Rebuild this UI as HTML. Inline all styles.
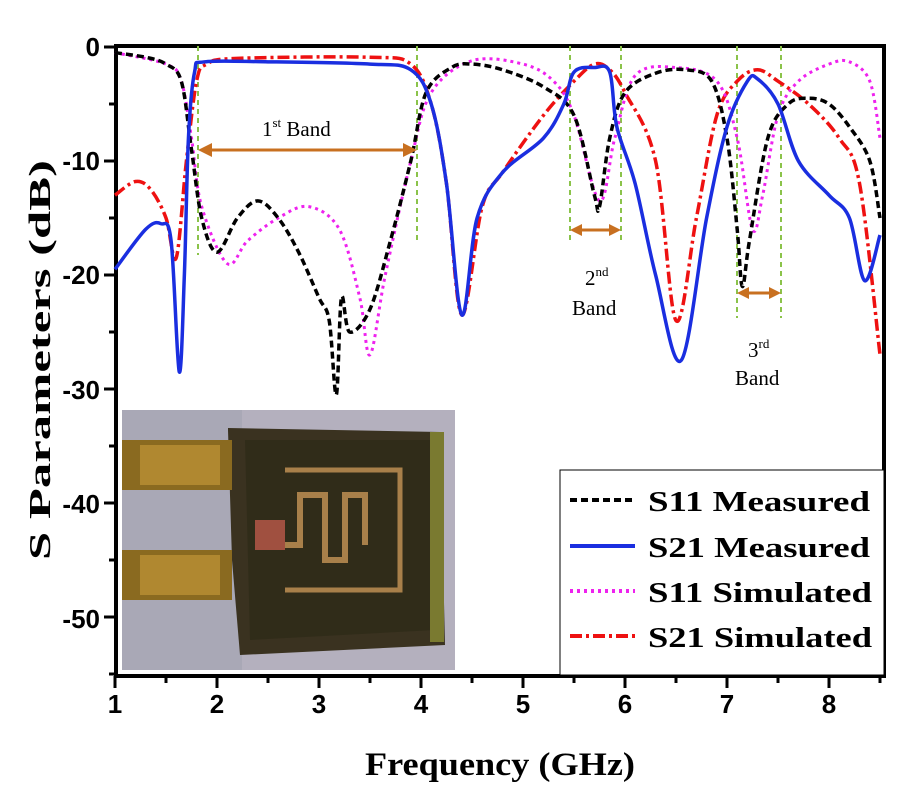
<!DOCTYPE html>
<html><head><meta charset="utf-8"><style>
html,body{margin:0;padding:0;background:#fff;}
svg{display:block;}
.t{font-family:"Liberation Sans",Arial,sans-serif;font-weight:bold;font-size:26px;fill:#000;}
.lg{font-family:"Liberation Serif",serif;font-weight:bold;font-size:29px;fill:#000;}
.bl{font-family:"Liberation Serif",serif;font-size:21px;fill:#000;}
</style></head><body>
<svg id="s" width="900" height="800" viewBox="0 0 900 800" xmlns="http://www.w3.org/2000/svg">
<rect width="900" height="800" fill="#fff"/>
<g>
<rect x="122" y="410" width="333" height="260" fill="#b4b0be"/>
<rect x="122" y="410" width="120" height="260" fill="#a9a8b6"/>
<path d="M228 428 L440 432 L445 645 L240 655 L232 560 L228 430 Z" fill="#3a3220"/>
<path d="M245 440 L430 440 L435 630 L250 640 Z" fill="#2e2a18" opacity="0.8"/>
<rect x="430" y="432" width="14" height="210" fill="#7a7a30"/>
<rect x="122" y="440" width="110" height="50" fill="#8a6a20"/>
<rect x="122" y="550" width="110" height="50" fill="#8a6a20"/>
<rect x="140" y="445" width="80" height="40" fill="#b08830"/>
<rect x="140" y="555" width="80" height="40" fill="#b08830"/>
<path d="M285 470 H400 V590 H285" fill="none" stroke="#a8804a" stroke-width="5"/>
<path d="M285 545 H300 V495 H325 V560 H345 V495 H365 V545" fill="none" stroke="#a8804a" stroke-width="6"/>
<rect x="255" y="520" width="30" height="30" fill="#a05040"/>
</g>
<rect x="116" y="46" width="768" height="630" fill="none" stroke="#000" stroke-width="4"/>
<g id="ticks" stroke="#000" stroke-width="3"></g>
<g class="t" text-anchor="end">
<text x="100" y="56">0</text><text x="100" y="170">-10</text><text x="100" y="284">-20</text>
<text x="100" y="399">-30</text><text x="100" y="513">-40</text><text x="100" y="628">-50</text>
</g>
<g class="t" text-anchor="middle">
<text x="115" y="713">1</text><text x="217" y="713">2</text><text x="319" y="713">3</text><text x="421" y="713">4</text>
<text x="523" y="713">5</text><text x="625" y="713">6</text><text x="727" y="713">7</text><text x="829" y="713">8</text>
</g>
<text class="lg" x="365" y="775" textLength="270" lengthAdjust="spacingAndGlyphs" style="font-size:33px">Frequency (GHz)</text>
<text class="lg" transform="translate(50 560) rotate(-90)" textLength="400" lengthAdjust="spacingAndGlyphs" style="font-size:31px">S Parameters (dB)</text>
<g stroke="#8bc34a" stroke-width="2" stroke-dasharray="5,4">
<line x1="198" y1="46" x2="198" y2="255"/><line x1="417" y1="46" x2="417" y2="240"/>
<line x1="570" y1="46" x2="570" y2="240"/><line x1="621" y1="46" x2="621" y2="240"/>
<line x1="737" y1="46" x2="737" y2="318"/><line x1="781" y1="46" x2="781" y2="318"/>
</g>
<g id="curves" fill="none"></g>
<g stroke="#c87020" stroke-width="3" fill="#c87020">
<line x1="208" y1="150" x2="407" y2="150"/><path d="M198 150 l14 -7 v14z M417 150 l-14 -7 v14z" stroke="none"/>
<line x1="578" y1="230" x2="613" y2="230"/><path d="M570 230 l12 -6 v12z M621 230 l-12 -6 v12z" stroke="none"/>
<line x1="745" y1="293" x2="773" y2="293"/><path d="M737 293 l12 -6 v12z M781 293 l-12 -6 v12z" stroke="none"/>
</g>
<text class="bl" x="262" y="136">1<tspan dy="-9" font-size="13">st</tspan><tspan dy="9"> Band</tspan></text>
<text class="bl" x="585" y="285">2<tspan dy="-9" font-size="13">nd</tspan></text>
<text class="bl" x="572" y="315">Band</text>
<text class="bl" x="748" y="357">3<tspan dy="-9" font-size="13">rd</tspan></text>
<text class="bl" x="735" y="385">Band</text>
<rect x="560" y="470" width="324" height="205" fill="#fff" stroke="#000" stroke-width="1"/>
<line x1="570" y1="500" x2="635" y2="500" stroke="#000" stroke-width="4" stroke-dasharray="7,4"/>
<line x1="570" y1="546" x2="635" y2="546" stroke="#1a2ee0" stroke-width="4"/>
<line x1="570" y1="591" x2="635" y2="591" stroke="#ee22ee" stroke-width="4" stroke-dasharray="3,4"/>
<line x1="570" y1="636" x2="635" y2="636" stroke="#ee1111" stroke-width="4" stroke-dasharray="12,4,3,4"/>
<text class="lg" x="648" y="511" textLength="222" lengthAdjust="spacingAndGlyphs">S11 Measured</text>
<text class="lg" x="648" y="557" textLength="222" lengthAdjust="spacingAndGlyphs">S21 Measured</text>
<text class="lg" x="648" y="602" textLength="224" lengthAdjust="spacingAndGlyphs">S11 Simulated</text>
<text class="lg" x="648" y="647" textLength="224" lengthAdjust="spacingAndGlyphs">S21 Simulated</text>
</svg>
<script>
function X(f){return 115+(f-1)*102;} function Y(d){return 47-d*11.4;}
var tk=document.getElementById('ticks'),h='';
for(var f=1;f<=8.5;f+=0.5){var x=X(f);var L=(f%1==0)?12:7;h+='<line x1="'+x+'" y1="676" x2="'+x+'" y2="'+(676+L)+'"/>';}
for(var d=0;d>=-55;d-=5){var y=Y(d);var L=(d%10==0)?12:7;h+='<line x1="116" y1="'+y+'" x2="'+(116-L)+'" y2="'+y+'"/>';}
tk.innerHTML=h;
function path(pts){var p=pts.map(function(a){return[X(a[0]),Y(a[1])];});var s='M'+p[0][0]+' '+p[0][1];
for(var i=0;i<p.length-1;i++){var p0=p[i-1]||p[i],p1=p[i],p2=p[i+1],p3=p[i+2]||p2;
s+=' C'+(p1[0]+(p2[0]-p0[0])/6)+' '+(p1[1]+(p2[1]-p0[1])/6)+' '+(p2[0]-(p3[0]-p1[0])/6)+' '+(p2[1]-(p3[1]-p1[1])/6)+' '+p2[0]+' '+p2[1];}return s;}
var S11m=[[1,-0.5],[1.3,-0.9],[1.5,-1.5],[1.65,-3],[1.75,-9],[1.85,-15],[2.0,-18],[2.2,-15],[2.4,-13.5],[2.6,-15],[2.8,-18],[3.0,-22],[3.1,-24],[3.17,-30.5],[3.22,-22],[3.3,-25],[3.5,-23],[3.7,-17],[3.9,-10],[4.05,-4],[4.3,-1.8],[4.5,-1.5],[4.8,-2],[5.2,-3.5],[5.5,-6],[5.7,-13],[5.75,-14],[5.85,-8],[6.0,-4],[6.3,-2.3],[6.6,-2],[6.85,-3],[7.0,-8],[7.1,-16],[7.15,-21],[7.22,-17],[7.4,-8],[7.6,-5],[7.8,-4.5],[8.0,-5],[8.2,-7],[8.4,-10],[8.5,-15]];
var S21m=[[1,-19.5],[1.3,-16],[1.45,-15.5],[1.55,-17],[1.63,-28.5],[1.68,-20],[1.72,-8],[1.78,-2.2],[1.88,-1.3],[2.5,-1.3],[3.5,-1.5],[3.9,-2],[4.1,-5],[4.25,-12],[4.4,-23.5],[4.55,-15],[4.8,-11],[5.2,-8],[5.4,-5],[5.5,-2.2],[5.7,-1.8],[5.85,-2.2],[5.92,-7],[6.1,-12],[6.3,-20],[6.55,-27.5],[6.8,-15],[7.0,-7],[7.2,-3],[7.3,-2.8],[7.5,-5],[7.7,-10],[8.0,-13],[8.2,-15],[8.35,-20.5],[8.5,-16.5]];
var S11s=[[1,-0.5],[1.5,-1.5],[1.65,-3],[1.75,-8],[1.85,-14],[2.1,-19],[2.3,-17],[2.6,-15],[2.9,-14],[3.2,-16],[3.4,-22],[3.5,-27],[3.65,-20],[3.9,-10],[4.1,-4],[4.5,-1.2],[5.0,-1.5],[5.3,-3],[5.5,-6],[5.75,-13.5],[5.9,-8],[6.1,-2.5],[6.5,-1.8],[6.9,-3],[7.1,-8],[7.25,-16],[7.35,-13],[7.5,-6],[7.7,-3],[8.0,-1.5],[8.2,-1.3],[8.4,-3],[8.5,-8]];
var S21s=[[1,-13],[1.2,-11.8],[1.35,-12.5],[1.5,-15],[1.6,-18.5],[1.7,-10],[1.8,-3],[1.9,-1.5],[2.2,-1],[3.5,-0.9],[3.9,-1.5],[4.1,-5],[4.25,-12],[4.4,-23.5],[4.6,-14],[4.8,-11],[5.2,-6],[5.5,-3],[5.7,-1.5],[5.85,-2],[6.0,-4],[6.3,-10],[6.5,-24],[6.7,-15],[6.9,-6],[7.1,-3],[7.3,-2],[7.5,-3],[7.8,-5],[8.1,-8],[8.3,-12],[8.5,-27]];
document.getElementById('curves').innerHTML='<path d="'+path(S21s)+'" stroke="#ee1111" stroke-width="3.5" stroke-dasharray="12,4,3,4"/>'+
'<path d="'+path(S11s)+'" stroke="#ee22ee" stroke-width="3" stroke-dasharray="3,4"/>'+
'<path d="'+path(S11m)+'" stroke="#000" stroke-width="3.5" stroke-dasharray="7,4"/>'+
'<path d="'+path(S21m)+'" stroke="#1a2ee0" stroke-width="3.5"/>';
</script>
</body></html>
